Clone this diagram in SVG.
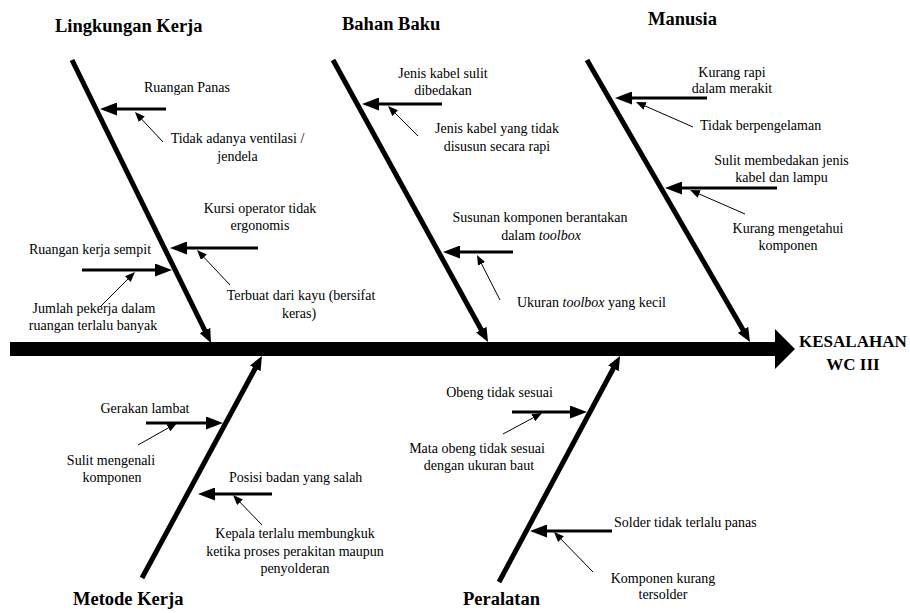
<svg xmlns="http://www.w3.org/2000/svg" width="910" height="613" viewBox="0 0 910 613">
<style>
.t{font-family:"Liberation Serif","Times New Roman",serif;font-size:14px;fill:#000}
.h{font-family:"Liberation Serif","Times New Roman",serif;font-size:18.5px;font-weight:bold;fill:#000}
.e{font-family:"Liberation Serif","Times New Roman",serif;font-size:17px;font-weight:bold;fill:#000}
.c{text-anchor:middle}
.br{stroke:#000;stroke-width:5;fill:none;marker-end:url(#hb)}
.sub{stroke:#000;stroke-width:3;fill:none;marker-end:url(#hm)}
.thin{stroke:#000;stroke-width:1;fill:none;marker-end:url(#hs)}
</style>
<defs>
<marker id="hb" markerUnits="userSpaceOnUse" markerWidth="14" markerHeight="12" refX="4" refY="6" orient="auto"><path d="M0,0 L14,6 L0,12 z" fill="#000"/></marker>
<marker id="hm" markerUnits="userSpaceOnUse" markerWidth="17" markerHeight="13" refX="2" refY="6.5" orient="auto"><path d="M0,0 L17,6.5 L0,13 z" fill="#000"/></marker>
<marker id="hs" markerUnits="userSpaceOnUse" markerWidth="10" markerHeight="8" refX="1" refY="4" orient="auto"><path d="M0,0 L10,4 L0,8 z" fill="#000"/></marker>
</defs>
<rect width="910" height="613" fill="#fff"/>

<g id="connectors">
<line x1="10" y1="349" x2="776" y2="349" stroke="#000" stroke-width="14"/>
<polygon points="775,329 795,349 775,369" fill="#000"/>
<line class="br" x1="72" y1="60" x2="206.6" y2="334"/>
<line class="br" x1="333" y1="60" x2="483.2" y2="333.2"/>
<line class="br" x1="587" y1="60" x2="745" y2="333.3"/>
<line class="br" x1="142" y1="578" x2="257.2" y2="364.8"/>
<line class="br" x1="499" y1="582" x2="615.3" y2="364.8"/>
<line class="sub" x1="166" y1="109" x2="115" y2="109"/>
<line class="sub" x1="258" y1="248" x2="185" y2="248"/>
<line class="sub" x1="82" y1="270" x2="157" y2="270"/>
<line class="sub" x1="442" y1="104" x2="377" y2="104"/>
<line class="sub" x1="513" y1="252" x2="458" y2="252"/>
<line class="sub" x1="707" y1="98" x2="630" y2="98"/>
<line class="sub" x1="777" y1="188" x2="680" y2="188"/>
<line class="sub" x1="146" y1="423" x2="208" y2="423"/>
<line class="sub" x1="272" y1="494" x2="213" y2="494"/>
<line class="sub" x1="512" y1="412" x2="572" y2="412"/>
<line class="sub" x1="612" y1="531" x2="545" y2="531"/>
<line class="thin" x1="163" y1="142" x2="141.1" y2="118.6"/>
<line class="thin" x1="230" y1="285" x2="203.2" y2="256.5"/>
<line class="thin" x1="100" y1="307" x2="128.6" y2="278.4"/>
<line class="thin" x1="418" y1="136" x2="394.4" y2="112.4"/>
<line class="thin" x1="500" y1="300" x2="481.1" y2="263"/>
<line class="thin" x1="693" y1="127" x2="644.2" y2="105.6"/>
<line class="thin" x1="745" y1="214" x2="698.3" y2="193.6"/>
<line class="thin" x1="138" y1="445" x2="169.2" y2="427.4"/>
<line class="thin" x1="262" y1="525" x2="239.3" y2="501.5"/>
<line class="thin" x1="503" y1="434" x2="534.1" y2="417.3"/>
<line class="thin" x1="593" y1="572" x2="560.3" y2="538.4"/>
</g>

<g id="effect">
<text class="e" x="799" y="347">KESALAHAN</text>
<text class="e c" x="853" y="370">WC III</text>
</g>

<g id="cat-lingkungan-kerja"><text class="h" x="55" y="32">Lingkungan Kerja</text></g>
<g id="cat-bahan-baku"><text class="h" x="342" y="30">Bahan Baku</text></g>
<g id="cat-manusia"><text class="h" x="648" y="25">Manusia</text></g>
<g id="cat-metode-kerja"><text class="h" x="73" y="605">Metode Kerja</text></g>
<g id="cat-peralatan"><text class="h" x="463" y="605">Peralatan</text></g>

<g id="c-ruangan-panas"><text class="t c" x="187" y="92">Ruangan Panas</text></g>
<g id="c-ventilasi"><text class="t c" x="237.5" y="143">Tidak adanya ventilasi /</text><text class="t c" x="237.5" y="161">jendela</text></g>
<g id="c-kursi"><text class="t c" x="260" y="213">Kursi operator tidak</text><text class="t c" x="260" y="230">ergonomis</text></g>
<g id="c-kayu"><text class="t c" x="301" y="300">Terbuat dari kayu (bersifat</text><text class="t c" x="299" y="318">keras)</text></g>
<g id="c-sempit"><text class="t c" x="90" y="254">Ruangan kerja sempit</text></g>
<g id="c-jumlah"><text class="t c" x="94" y="313">Jumlah pekerja dalam</text><text class="t c" x="93" y="330">ruangan terlalu banyak</text></g>

<g id="c-kabel-sulit"><text class="t c" x="443" y="78">Jenis kabel sulit</text><text class="t c" x="443" y="95">dibedakan</text></g>
<g id="c-kabel-rapi"><text class="t c" x="497" y="133">Jenis kabel yang tidak</text><text class="t c" x="497" y="151">disusun secara rapi</text></g>
<g id="c-susunan"><text class="t c" x="540" y="222">Susunan komponen berantakan</text><text class="t c" x="541" y="240">dalam <tspan font-style="italic">toolbox</tspan></text></g>
<g id="c-ukuran"><text class="t" x="517" y="307">Ukuran <tspan font-style="italic">toolbox</tspan> yang kecil</text></g>

<g id="c-kurang-rapi"><text class="t c" x="732" y="77">Kurang rapi</text><text class="t c" x="732" y="93">dalam merakit</text></g>
<g id="c-berpengalaman"><text class="t" x="700" y="130">Tidak berpengelaman</text></g>
<g id="c-sulit-membedakan"><text class="t c" x="781.5" y="165">Sulit membedakan jenis</text><text class="t c" x="781.5" y="182">kabel dan lampu</text></g>
<g id="c-mengetahui"><text class="t c" x="788" y="233">Kurang mengetahui</text><text class="t c" x="788" y="250">komponen</text></g>

<g id="c-gerakan"><text class="t c" x="145" y="413">Gerakan lambat</text></g>
<g id="c-mengenali"><text class="t c" x="111" y="465">Sulit mengenali</text><text class="t c" x="112" y="482">komponen</text></g>
<g id="c-posisi"><text class="t" x="229" y="482">Posisi badan yang salah</text></g>
<g id="c-kepala"><text class="t c" x="295" y="538">Kepala terlalu membungkuk</text><text class="t c" x="295" y="556">ketika proses perakitan maupun</text><text class="t c" x="295" y="573">penyolderan</text></g>

<g id="c-obeng"><text class="t c" x="499.5" y="397">Obeng tidak sesuai</text></g>
<g id="c-mata-obeng"><text class="t c" x="477" y="453">Mata obeng tidak sesuai</text><text class="t c" x="479" y="470">dengan ukuran baut</text></g>
<g id="c-solder"><text class="t" x="614" y="527">Solder tidak terlalu panas</text></g>
<g id="c-tersolder"><text class="t c" x="663" y="583">Komponen kurang</text><text class="t c" x="663" y="599">tersolder</text></g>
</svg>
